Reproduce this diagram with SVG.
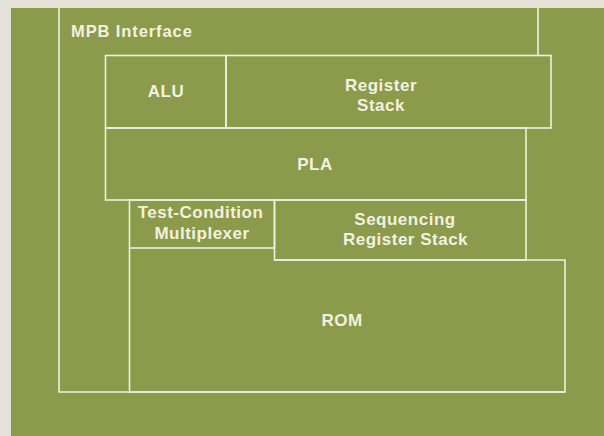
<svg xmlns="http://www.w3.org/2000/svg" width="604" height="436" viewBox="0 0 604 436">
  <style>
    .blk { fill: none; stroke: #eef0dc; stroke-width: 1.6; }
    .lbl { font-family: "Liberation Sans", Arial, sans-serif; font-weight: bold; font-size: 17px; letter-spacing: 0.5px; fill: #f3f1df; text-anchor: middle; }
    .lft { text-anchor: start; }
  </style>
  <!-- page and chip area -->
  <rect x="0" y="0" width="604" height="436" fill="#e4e2d8"/>
  <rect x="11" y="8" width="593" height="428" fill="#8b9a4b"/>

  <g id="mpb-interface">
    <path class="blk" d="M59,8 V392 H565 M538,8 V55.5"/>
    <text class="lbl lft" x="71" y="37" style="font-size:16.5px;letter-spacing:0.9px">MPB Interface</text>
  </g>

  <g id="alu">
    <rect class="blk" x="105.5" y="55.5" width="120.5" height="72.5"/>
    <text class="lbl" x="166" y="97">ALU</text>
  </g>

  <g id="register-stack">
    <rect class="blk" x="226" y="55.5" width="325" height="72.5"/>
    <text class="lbl" x="381" y="91">Register</text>
    <text class="lbl" x="381" y="111">Stack</text>
  </g>

  <g id="pla">
    <rect class="blk" x="105.5" y="128" width="420.5" height="72"/>
    <text class="lbl" x="315" y="170">PLA</text>
  </g>

  <g id="test-condition-multiplexer">
    <rect class="blk" x="129.5" y="200" width="145" height="48"/>
    <text class="lbl" x="200.5" y="217.5">Test-Condition</text>
    <text class="lbl" x="202" y="239">Multiplexer</text>
  </g>

  <g id="sequencing-register-stack">
    <rect class="blk" x="274.5" y="200" width="251.5" height="60"/>
    <text class="lbl" x="405" y="225">Sequencing</text>
    <text class="lbl" x="405.5" y="245">Register Stack</text>
  </g>

  <g id="rom">
    <path class="blk" d="M129.5,248 V392 H565 V260 H274.5"/>
    <text class="lbl" x="342" y="326">ROM</text>
  </g>

  <g id="connectors"></g>
</svg>
